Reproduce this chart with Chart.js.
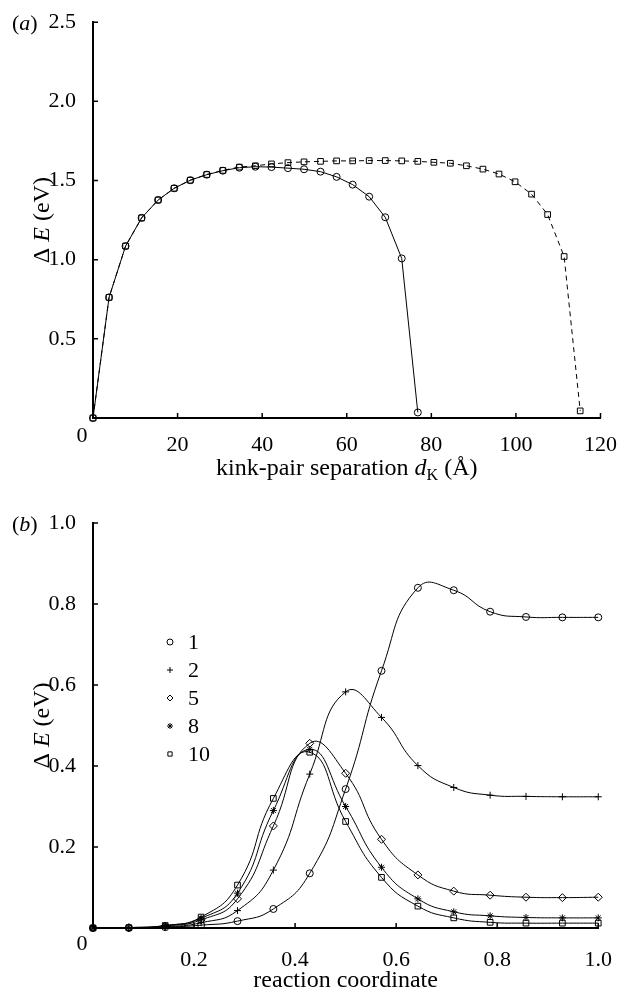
<!DOCTYPE html>
<html>
<head>
<meta charset="utf-8">
<script src="https://cdn.jsdelivr.net/npm/chart.js@4.4.0/dist/chart.umd.min.js"></script>
<style>
html,body{margin:0;padding:0;background:#fff;}
#wrapA{position:absolute;left:0;top:0;width:623px;height:495px;}
#wrapB{position:absolute;left:0;top:495px;width:623px;height:497px;}
</style>
</head>
<body>
<div id="wrapA"><canvas id="chartA"></canvas></div>
<div id="wrapB"><canvas id="chartB"></canvas></div>
<script>
// ---------- Panel (a): kink-pair separation (Å) vs ΔE (eV) ----------
const separationA = [0, 3.8, 7.7, 11.5, 15.4, 19.2, 23.0, 26.9, 30.7, 34.6, 38.4, 42.2, 46.1, 49.9, 53.8, 57.6,
                     61.4, 65.3, 69.1, 73.0, 76.8, 80.6, 84.5, 88.3, 92.2, 96.0, 99.8, 103.7, 107.5, 111.4, 115.2];
const circlesA = [0, 0.762, 1.086, 1.264, 1.377, 1.451, 1.502, 1.537, 1.562, 1.581, 1.587, 1.585, 1.578, 1.571,
                  1.556, 1.523, 1.474, 1.398, 1.268, 1.008, 0.035];
const squaresA = [0, 0.762, 1.086, 1.264, 1.377, 1.451, 1.502, 1.538, 1.564, 1.585, 1.593, 1.605, 1.613, 1.618,
                  1.621, 1.624, 1.624, 1.626, 1.626, 1.624, 1.621, 1.615, 1.609, 1.593, 1.572, 1.541, 1.492, 1.414,
                  1.285, 1.020, 0.045];
const xTicksA = [0, 20, 40, 60, 80, 100, 120];
const yTicksA = [0, 0.5, 1.0, 1.5, 2.0, 2.5];

// ---------- Panel (b): reaction coordinate vs ΔE (eV) ----------
const coordB = [0, 0.071, 0.143, 0.214, 0.286, 0.357, 0.429, 0.5, 0.571, 0.643, 0.714, 0.786, 0.857, 0.929, 1.0];
const seriesLabelsB = ['1', '2', '5', '8', '10'];
const energy1 = [0, 0, 0.002, 0.007, 0.017, 0.047, 0.135, 0.343, 0.635, 0.840, 0.834, 0.781, 0.768, 0.767, 0.767];
const energy2 = [0, 0, 0.003, 0.013, 0.043, 0.143, 0.380, 0.583, 0.520, 0.401, 0.347, 0.328, 0.325, 0.324, 0.324];
const energy5 = [0, 0.001, 0.005, 0.020, 0.072, 0.252, 0.456, 0.382, 0.219, 0.131, 0.091, 0.081, 0.076, 0.075, 0.076];
const energy8 = [0, 0.001, 0.006, 0.024, 0.086, 0.290, 0.441, 0.300, 0.150, 0.072, 0.040, 0.030, 0.026, 0.025, 0.025];
const energy10 = [0, 0.001, 0.006, 0.027, 0.106, 0.320, 0.434, 0.263, 0.125, 0.054, 0.025, 0.014, 0.012, 0.012, 0.012];
const xTicksB = [0, 0.2, 0.4, 0.6, 0.8, 1.0];
const yTicksB = [0, 0.2, 0.4, 0.6, 0.8, 1.0];

// ---------- styling ----------
const FAMILY = '"Liberation Serif", "Times New Roman", serif';
const TICK_SIZE = 22;
const TITLE_SIZE = 24;

function pts(xs, ys) { return ys.map((y, i) => ({x: xs[i], y: y})); }

function drawMixed(ctx, segs, x, y, align) {
  let total = 0;
  segs.forEach(s => { ctx.font = (s.style || '') + ' ' + s.size + 'px ' + FAMILY; s.w = ctx.measureText(s.t).width; total += s.w; });
  let cx = align === 'center' ? x - total / 2 : x;
  ctx.textAlign = 'left';
  ctx.textBaseline = 'alphabetic';
  segs.forEach(s => {
    ctx.font = (s.style || '') + ' ' + s.size + 'px ' + FAMILY;
    ctx.fillText(s.t, cx, y + (s.dy || 0));
    cx += s.w;
  });
}

function drawMarker(ctx, style, r, x, y) {
  if (Chart.helpers && Chart.helpers.drawPoint) {
    ctx.fillStyle = 'rgba(0,0,0,0)';
    Chart.helpers.drawPoint(ctx, {pointStyle: style, radius: r, rotation: 0, borderWidth: 1}, x, y);
    return;
  }
  ctx.beginPath();
  ctx.arc(x, y, r, 0, Math.PI * 2);
  ctx.stroke();
}

const decor = {
  id: 'decor',
  afterDraw(chart, args, opts) {
    const ctx = chart.ctx;
    const xs = chart.scales.x, ys = chart.scales.y;
    const ca = chart.chartArea;
    ctx.save();
    ctx.strokeStyle = '#000';
    ctx.fillStyle = '#000';
    ctx.lineWidth = 1.5;
    // inward tick marks
    ctx.beginPath();
    opts.xTicks.forEach(v => {
      if (v === opts.xTicks[0]) return;
      const px = xs.getPixelForValue(v);
      ctx.moveTo(px, ca.bottom); ctx.lineTo(px, ca.bottom - 5);
    });
    opts.yTicks.forEach(v => {
      if (v === opts.yTicks[0]) return;
      const py = ys.getPixelForValue(v);
      ctx.moveTo(ca.left, py); ctx.lineTo(ca.left + 5, py);
    });
    ctx.stroke();
    // origin label
    ctx.font = TICK_SIZE + 'px ' + FAMILY;
    ctx.textAlign = 'center';
    ctx.textBaseline = 'alphabetic';
    ctx.fillText('0', ca.left - 11, ca.bottom + opts.originDy);
    // panel tag
    drawMixed(ctx, [{t: '(', size: TICK_SIZE}, {t: opts.tag, style: 'italic', size: TICK_SIZE}, {t: ')', size: TICK_SIZE}],
      12, ca.top + 8, 'left');
    // x title
    drawMixed(ctx, opts.xTitle, (ca.left + ca.right) / 2, ca.bottom + opts.xTitleDy, 'center');
    // y title (rotated)
    ctx.save();
    ctx.translate(49, (ca.top + ca.bottom) / 2);
    ctx.rotate(-Math.PI / 2);
    drawMixed(ctx, [{t: 'Δ ', size: TITLE_SIZE}, {t: 'E', style: 'italic', size: TITLE_SIZE}, {t: ' (eV)', size: TITLE_SIZE}], 0, 0, 'center');
    ctx.restore();
    // legend
    if (opts.legend) {
      const lx = ca.left + 77, ly = ca.top + 119, step = 28;
      chart.data.datasets.forEach((ds, i) => {
        const y = ly + i * step;
        ctx.strokeStyle = '#000';
        ctx.lineWidth = 1;
        drawMarker(ctx, ds.pointStyle, 3, lx, y);
        ctx.fillStyle = '#000';
        ctx.font = TICK_SIZE + 'px ' + FAMILY;
        ctx.textAlign = 'left';
        ctx.textBaseline = 'middle';
        ctx.fillText(ds.label, lx + 18, y + 1);
      });
    }
    ctx.restore();
  }
};

function axisOpts(min, max, step, fmt, padding, fitFn) {
  return {
    type: 'linear', min: min, max: max,
    grid: {display: false},
    border: {display: true, color: '#000', width: 2},
    ticks: {
      stepSize: step, color: '#000', padding: padding, autoSkip: false, maxRotation: 0,
      font: {family: FAMILY, size: TICK_SIZE},
      callback: v => (Math.abs(v - min) < 1e-9 ? '' : fmt(v))
    },
    afterFit: fitFn
  };
}

const lineBase = {borderColor: '#000', borderWidth: 1, pointBorderColor: '#000', pointBackgroundColor: 'rgba(0,0,0,0)',
                  pointBorderWidth: 1, fill: false, clip: false, pointHoverRadius: 4};

new Chart(document.getElementById('chartA'), {
  type: 'line',
  data: {
    datasets: [
      Object.assign({}, lineBase, {label: 'circles', data: pts(separationA, circlesA), pointStyle: 'circle', pointRadius: 3.5, tension: 0}),
      Object.assign({}, lineBase, {label: 'squares', data: pts(separationA, squaresA), pointStyle: 'rect', pointRadius: 4, borderDash: [5, 4], tension: 0})
    ]
  },
  options: {
    responsive: true, maintainAspectRatio: false, animation: false,
    layout: {padding: {left: 0, right: 18, top: 13, bottom: 0}},
    plugins: {
      legend: {display: false}, tooltip: {enabled: false},
      decor: {
        tag: 'a', xTicks: xTicksA, yTicks: yTicksA, originDy: 24, xTitleDy: 57, legend: false,
        xTitle: [{t: 'kink-pair separation ', size: TITLE_SIZE}, {t: 'd', style: 'italic', size: TITLE_SIZE},
                 {t: 'K', size: 16, dy: 5}, {t: ' (Å)', size: TITLE_SIZE}]
      }
    },
    scales: {
      x: axisOpts(0, 120, 20, v => String(v), 6, s => { s.height = 77; }),
      y: axisOpts(0, 2.5, 0.5, v => v.toFixed(1), 9, s => { s.width = 93; })
    }
  },
  plugins: [decor]
});

new Chart(document.getElementById('chartB'), {
  type: 'line',
  data: {
    datasets: [
      Object.assign({}, lineBase, {label: seriesLabelsB[0], data: pts(coordB, energy1), pointStyle: 'circle', pointRadius: 3.5, tension: 0.5}),
      Object.assign({}, lineBase, {label: seriesLabelsB[1], data: pts(coordB, energy2), pointStyle: 'cross', pointRadius: 3.5, tension: 0.5}),
      Object.assign({}, lineBase, {label: seriesLabelsB[2], data: pts(coordB, energy5), pointStyle: 'rectRot', pointRadius: 4, tension: 0.5}),
      Object.assign({}, lineBase, {label: seriesLabelsB[3], data: pts(coordB, energy8), pointStyle: 'star', pointRadius: 3.5, tension: 0.5}),
      Object.assign({}, lineBase, {label: seriesLabelsB[4], data: pts(coordB, energy10), pointStyle: 'rect', pointRadius: 4, tension: 0.5})
    ]
  },
  options: {
    responsive: true, maintainAspectRatio: false, animation: false,
    layout: {padding: {left: 0, right: 17, top: 28, bottom: 0}},
    plugins: {
      legend: {display: false}, tooltip: {enabled: false},
      decor: {
        tag: 'b', xTicks: xTicksB, yTicks: yTicksB, originDy: 22, xTitleDy: 59, legend: true,
        xTitle: [{t: 'reaction coordinate', size: TITLE_SIZE}]
      }
    },
    scales: {
      x: axisOpts(0, 1, 0.2, v => v.toFixed(1), 11, s => { s.height = 64; }),
      y: axisOpts(0, 1, 0.2, v => v.toFixed(1), 9, s => { s.width = 93; })
    }
  },
  plugins: [decor]
});
</script>
</body>
</html>
